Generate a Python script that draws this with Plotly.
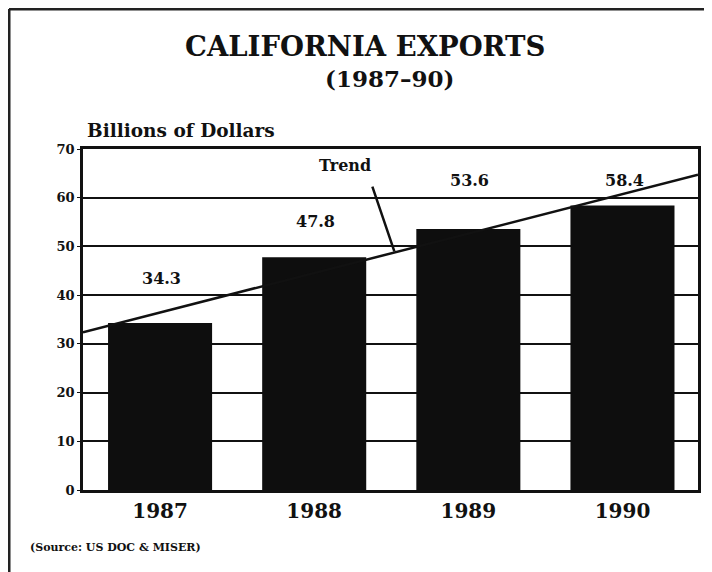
import plotly.graph_objects as go

years = ["1987", "1988", "1989", "1990"]
exports = [34.3, 47.8, 53.6, 58.4]
value_labels = ["34.3", "47.8", "53.6", "58.4"]
label_heights = [43.5, 55.2, 63.6, 63.6]
trend_x = [-0.5, 3.49]
trend_y = [32.4, 64.7]
y_ticks = [0, 10, 20, 30, 40, 50, 60, 70]

pos = list(range(len(years)))
INK = "#111111"
SERIF = "DejaVu Serif"

fig = go.Figure()
fig.add_trace(go.Bar(x=pos, y=exports, width=0.675,
                     marker=dict(color="#0e0e0e", line=dict(width=0)),
                     hoverinfo="skip"))
fig.add_trace(go.Scatter(x=trend_x, y=trend_y, mode="lines",
                         line=dict(color=INK, width=2.5), hoverinfo="skip"))

for p, lab, h in zip(pos, value_labels, label_heights):
    fig.add_annotation(x=p + 0.01, y=h, text="<b>" + lab + "</b>", showarrow=False,
                       font=dict(family=SERIF, size=16, color=INK))

fig.add_annotation(x=1.52, y=49.0, ax=1.374, ay=62.6, axref="x", ayref="y",
                   text="", showarrow=True, arrowhead=0, arrowwidth=2.5, arrowcolor=INK)
fig.add_annotation(x=1.2, y=66.7, text="<b>Trend</b>", showarrow=False,
                   font=dict(family=SERIF, size=16, color=INK))

fig.add_annotation(x=0.4585, y=1.3035, xref="paper", yref="paper", yanchor="middle",
                   text="<b>CALIFORNIA EXPORTS</b>", showarrow=False,
                   font=dict(family=SERIF, size=27.5, color=INK))
fig.add_annotation(x=0.4976, y=1.208, xref="paper", yref="paper", yanchor="middle",
                   text="<b>(1987–90)</b>", showarrow=False,
                   font=dict(family=SERIF, size=23, color=INK))
fig.add_annotation(x=0.003, y=1.053, xref="paper", yref="paper", xanchor="left", yanchor="middle",
                   text="<b>Billions of Dollars</b>", showarrow=False,
                   font=dict(family=SERIF, size=18.5, color=INK))
fig.add_annotation(x=-0.0894, y=-0.170, xref="paper", yref="paper", xanchor="left", yanchor="middle",
                   text="<b>(Source: US DOC & MISER)</b>", showarrow=False,
                   font=dict(family=SERIF, size=11, color=INK))

# scanned page frame (top and left edges)
fig.add_shape(type="line", xref="paper", yref="paper", x0=-0.1203, x1=1.04, y0=1.4106, y1=1.4106,
              line=dict(color="#222222", width=3))
fig.add_shape(type="line", xref="paper", yref="paper", x0=-0.1203, x1=-0.1203, y0=1.4106, y1=-0.27,
              line=dict(color="#222222", width=3))

fig.update_layout(
    width=712, height=572,
    margin=dict(l=75, r=22, t=141, b=90),
    paper_bgcolor="white", plot_bgcolor="white",
    showlegend=False,
    xaxis=dict(range=[-0.5, 3.49], tickvals=pos, ticktext=["<b>" + y + "</b>" for y in years],
               tickfont=dict(family=SERIF, size=20, color=INK), ticklabelstandoff=1,
               showgrid=False, showline=True, mirror=True, linecolor=INK, linewidth=2.5,
               ticks="", fixedrange=True),
    yaxis=dict(range=[0, 70], tickvals=y_ticks, ticktext=["<b>%d</b>" % v for v in y_ticks],
               tickfont=dict(family=SERIF, size=13, color=INK),
               showgrid=True, gridcolor=INK, gridwidth=1.5,
               showline=True, mirror=True, linecolor=INK, linewidth=2.5,
               zeroline=False, ticks="outside", ticklen=3, tickcolor=INK, fixedrange=True),
)

fig.write_html("out.html")
